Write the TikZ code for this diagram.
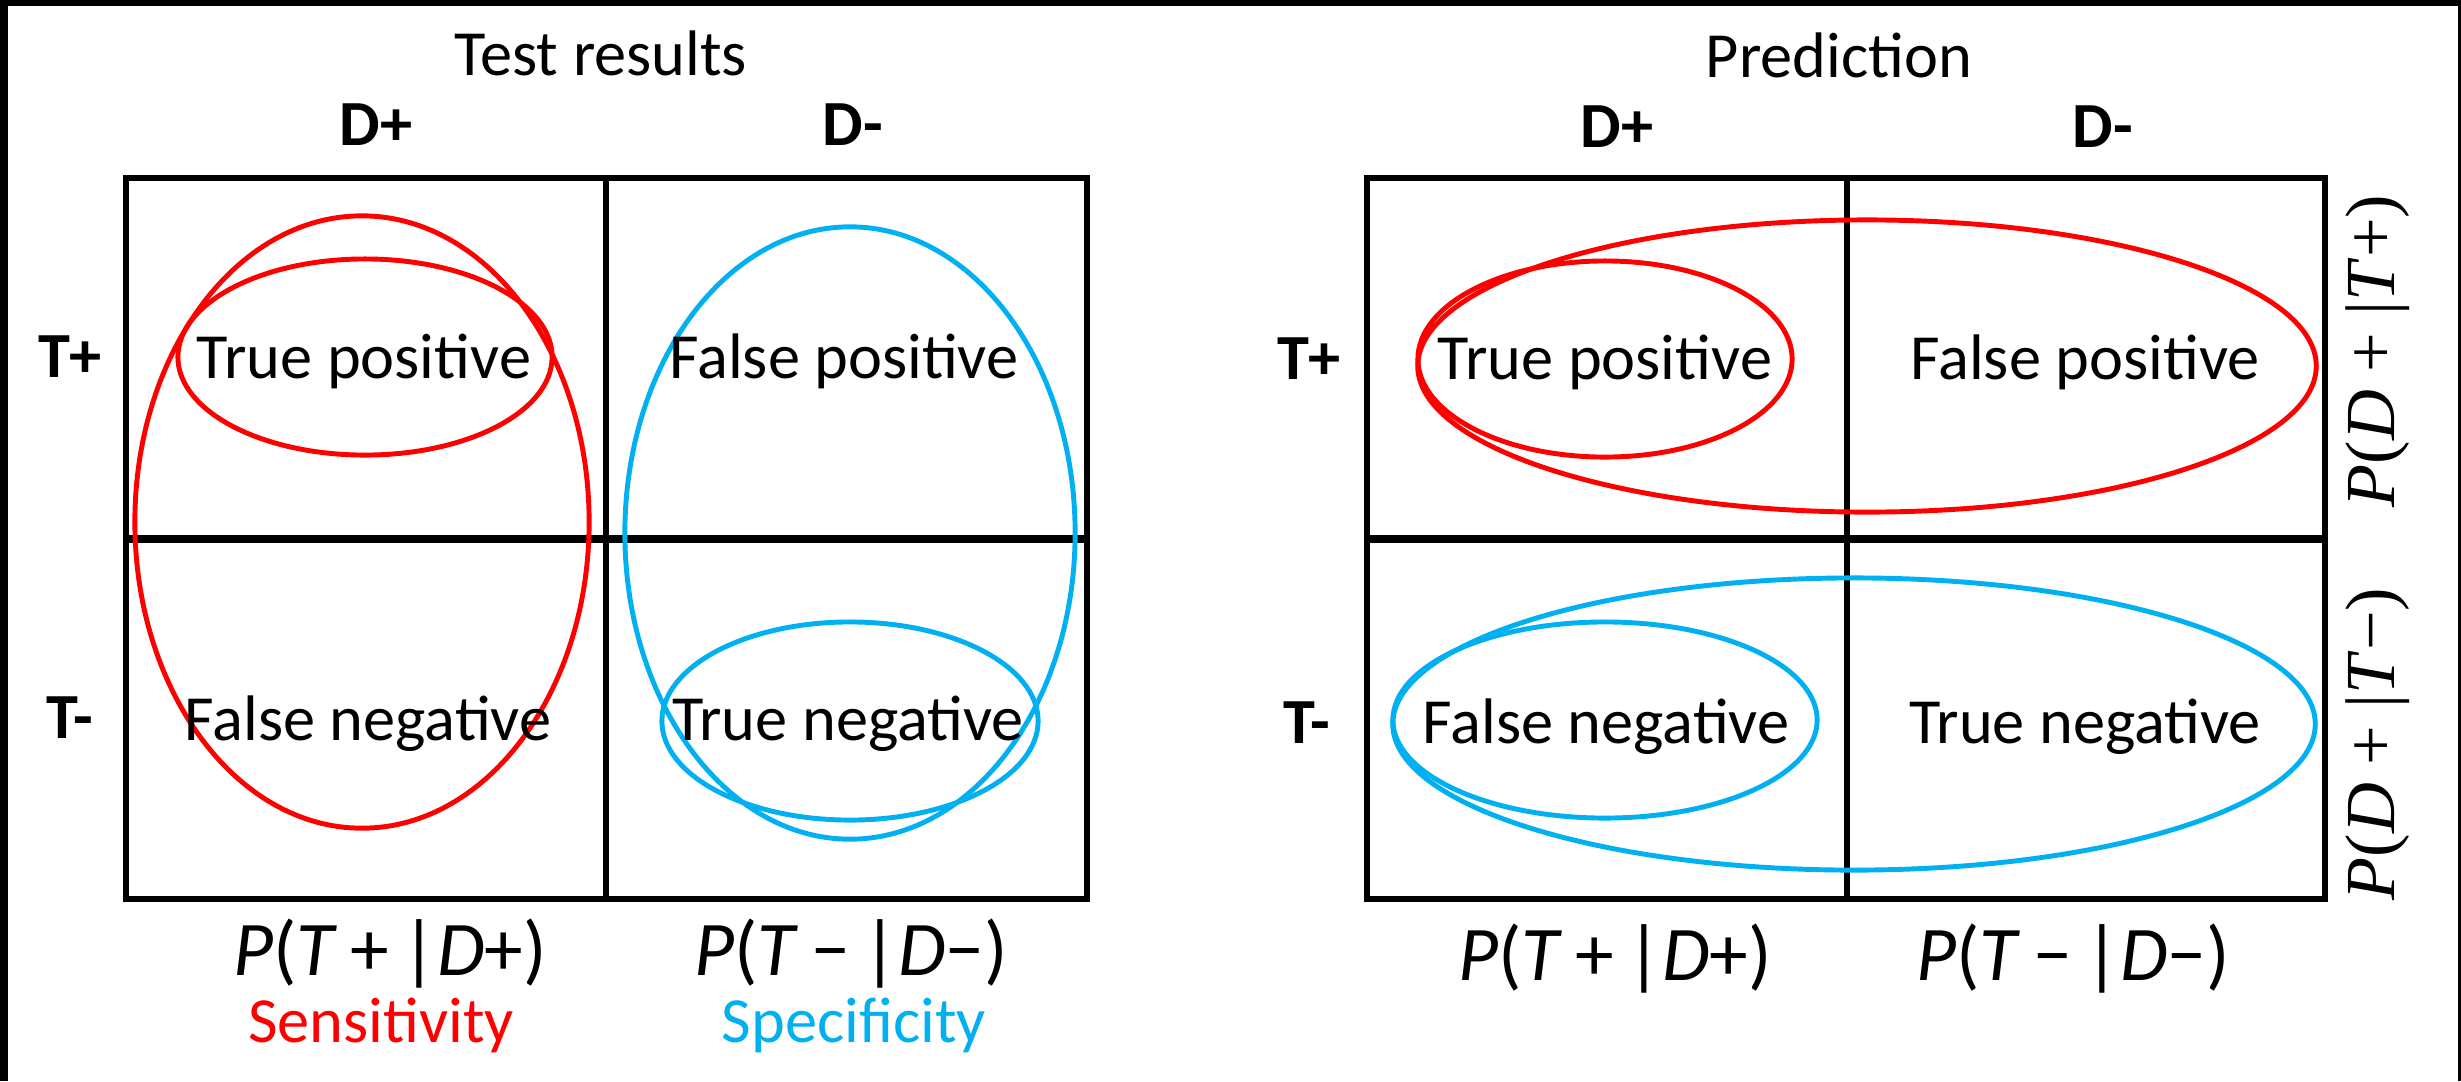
\documentclass[tikz,border=0pt]{standalone}
\usepackage{fontspec}
\setmainfont{Carlito}
\newfontfamily\postfont{Liberation Serif}
\usetikzlibrary{positioning}
\definecolor{senred}{RGB}{255,0,0}
\definecolor{speblue}{RGB}{0,176,240}
\newcommand{\condp}[3]{\textit{P}(\textit{#1}\,#3\,|\textit{#2}#3)}

\begin{document}
\begin{tikzpicture}[x=0.01cm, y=-0.01cm,
  txt/.style={font=\fontsize{18.3}{21}\selectfont, inner sep=0pt, anchor=base},
  hdr/.style={txt, font=\fontsize{18.3}{21}\selectfont\bfseries},
  cond/.style={font=\fontsize{22}{26}\selectfont, inner sep=0pt, anchor=base},
  post/.style={font=\postfont\fontsize{20}{24}\selectfont, inner sep=0pt, rotate=90},
  tableline/.style={line width=1.7pt},
  rowline/.style={line width=2.3pt},
  redring/.style={draw=senred, line width=1.4pt},
  bluering/.style={draw=speblue, line width=1.4pt},
]
\useasboundingbox (0,0) rectangle (2461,1081);
% frame strips
\fill (0,0) rectangle (2461,6);
\fill (0,0) rectangle (8,1081);
\fill (2458,0) rectangle (2461,1081);

% the two tables
\foreach \xl/\xm/\xr in {126/606/1087, 1367/1847/2325} {
  \draw[tableline] (\xl,178) rectangle (\xr,899);
  \draw[tableline] (\xm,178) -- (\xm,899);
  \draw[rowline] (\xl,539) -- (\xr,539);
}

% rings, test results
\draw[redring] (362,522) ellipse [x radius=2.27cm, y radius=3.06cm];
\draw[redring] (365,357) ellipse [x radius=1.87cm, y radius=0.98cm];
\draw[bluering] (850,533) ellipse [x radius=2.25cm, y radius=3.06cm];
\draw[bluering] (850,721) ellipse [x radius=1.88cm, y radius=0.99cm];
% rings, prediction
\draw[redring] (1867,366) ellipse [x radius=4.49cm, y radius=1.46cm];
\draw[redring] (1605,359) ellipse [x radius=1.87cm, y radius=0.98cm];
\draw[bluering] (1854,724) ellipse [x radius=4.61cm, y radius=1.46cm];
\draw[bluering] (1605,720) ellipse [x radius=2.12cm, y radius=0.98cm];

% test results
\node[txt] (titleL) at (601,75) {Test results};
\node[hdr] (dposL) at (376,145) {D+};
\node[hdr] (dnegL) at (853,145) {D-};
\node[hdr] (tposL) at (70,377) {T+};
\node[hdr] (tnegL) at (70,738) {T-};
\node[txt] (tpL) at (364,378) {True positive};
\node[txt] (fpL) at (844,378) {False positive};
\node[txt] (fnL) at (368,740) {False negative};
\node[txt] (tnL) at (848,740) {True negative};
\node[cond] (sensL) at (390,975) {\condp{T}{D}{+}};
\node[cond] (specL) at (851,975) {\condp{T}{D}{−}};
\node[txt, text=senred] (sens) at (381,1042) {Sensitivity};
\node[txt, text=speblue] (spec) at (854,1042) {Specificity};

% prediction
\node[txt] (titleR) at (1839,77) {Prediction};
\node[hdr] (dposR) at (1617,147) {D+};
\node[hdr] (dnegR) at (2103,147) {D-};
\node[hdr] (tposR) at (1309,379) {T+};
\node[hdr] (tnegR) at (1307,743) {T-};
\node[txt] (tpR) at (1605,379) {True positive};
\node[txt] (fpR) at (2085,379) {False positive};
\node[txt] (fnR) at (1606,743) {False negative};
\node[txt] (tnR) at (2085,743) {True negative};
\node[cond] (sensR) at (1615,980) {\condp{T}{D}{+}};
\node[cond] (specR) at (2073,980) {\condp{T}{D}{−}};
\node[post] (ppv) at (2378,351) {\textit{P}(\textit{D} + |\textit{T}+)};
\node[post] (npv) at (2378,744) {\textit{P}(\textit{D} + |\textit{T}−)};
\end{tikzpicture}
\end{document}
